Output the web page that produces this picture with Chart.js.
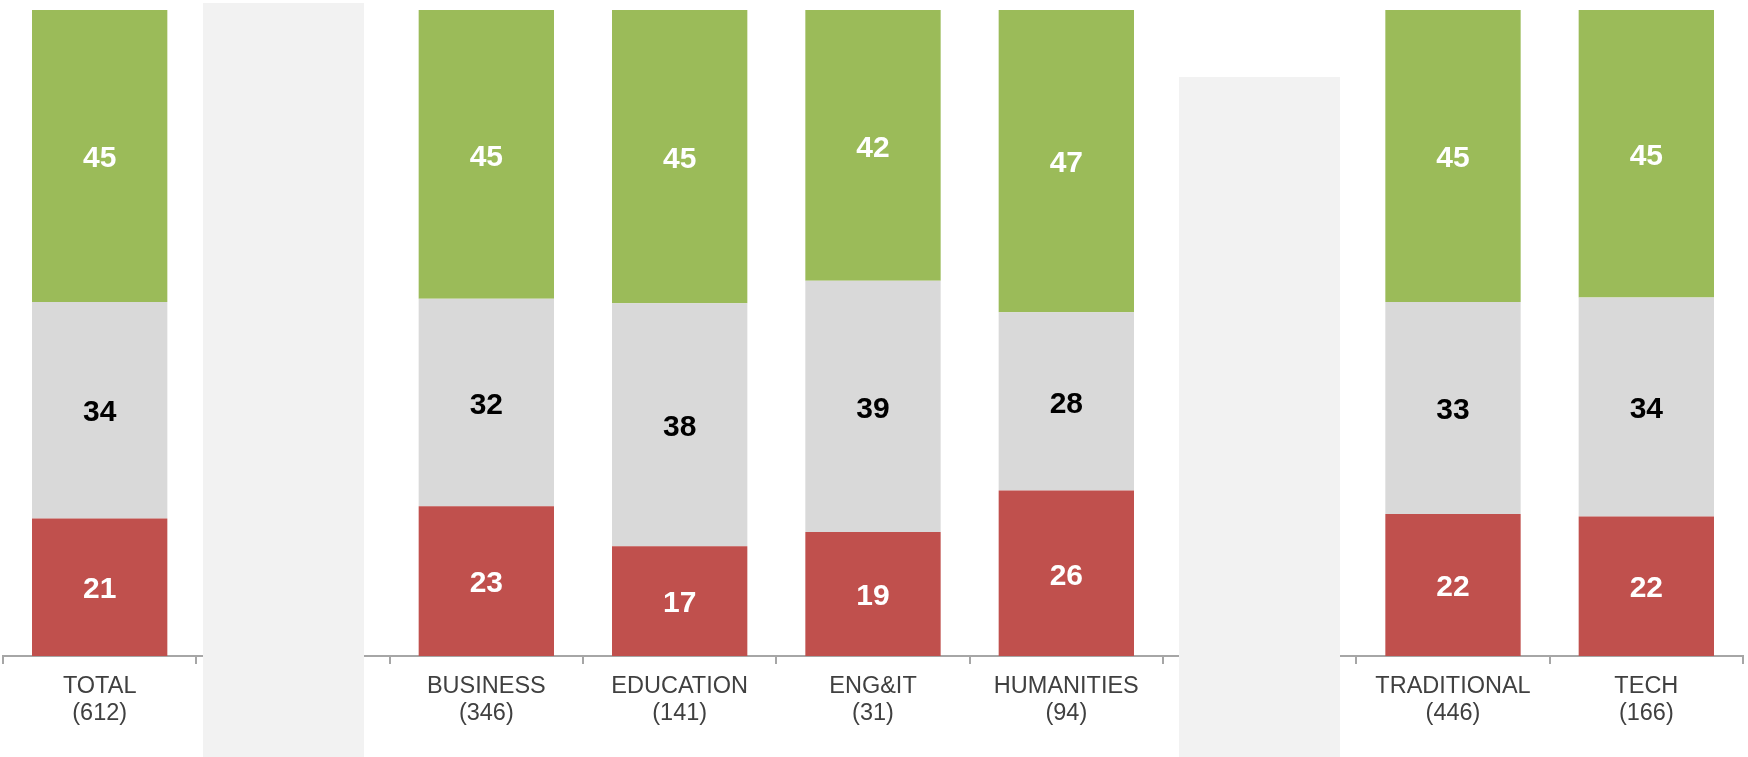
<!DOCTYPE html>
<html>
<head>
<meta charset="utf-8">
<script src="https://cdn.jsdelivr.net/npm/chart.js@4/dist/chart.umd.min.js"></script>
<style>
  html, body { margin: 0; padding: 0; background: #ffffff; }
  #wrap { width: 1748px; height: 757px; position: relative; }
</style>
</head>
<body>
<div id="wrap"><canvas id="c" width="1748" height="757"></canvas></div>
<script>
// Categories (empty strings are the shaded spacer columns)
const categories = ['TOTAL', '', 'BUSINESS', 'EDUCATION', 'ENG&IT', 'HUMANITIES', '', 'TRADITIONAL', 'TECH'];
const sampleSizes = ['(612)', '', '(346)', '(141)', '(31)', '(94)', '', '(446)', '(166)'];

// Series values (percent), bottom to top
const negativeValues = [21.3, null, 23.2, 17.0, 19.2, 25.6, null, 22.0, 21.6];
const neutralValues  = [33.5, null, 32.1, 37.6, 38.9, 27.6, null, 32.8, 33.9];
const positiveValues = [45.2, null, 44.7, 45.4, 41.9, 46.8, null, 45.2, 44.5];

// Spacer panels: category index and top (in y-axis units)
const spacerIndex = [1, 6];
const spacerTop = [101.1, 89.6];

const FONT = '"Liberation Sans", Arial, Helvetica, sans-serif';

const labels = categories.map((c, i) => c ? [c, sampleSizes[i]] : ['']);

const valueLabels = {
  id: 'valueLabels',
  afterDatasetsDraw(chart) {
    const ctx = chart.ctx;
    ctx.save();
    ctx.font = 'bold 30px ' + FONT;
    ctx.textAlign = 'center';
    ctx.textBaseline = 'middle';
    chart.data.datasets.forEach((ds, di) => {
      const meta = chart.getDatasetMeta(di);
      meta.data.forEach((el, i) => {
        const v = ds.data[i];
        if (v === null || v === undefined) return;
        const p = el.getProps(['x', 'y', 'base'], true);
        ctx.fillStyle = ds.labelColor;
        ctx.fillText(String(Math.round(v)), p.x, (p.y + p.base) / 2 + 3);
      });
    });
    ctx.restore();
  }
};

const spacers = {
  id: 'spacers',
  afterDatasetsDraw(chart, args, opts) {
    const ctx = chart.ctx;
    const xs = chart.scales.x, ys = chart.scales.y;
    const catW = xs.width / xs.ticks.length;
    ctx.save();
    ctx.fillStyle = opts.color;
    spacerIndex.forEach((idx, k) => {
      const cx = xs.getPixelForValue(idx) + (opts.shift[k] || 0);
      const w = catW * opts.widthRatio;
      const top = ys.getPixelForValue(spacerTop[k]);
      ctx.fillRect(Math.round(cx - w / 2), Math.round(top), Math.round(w), chart.height - Math.round(top));
    });
    ctx.restore();
  }
};

new Chart(document.getElementById('c'), {
  type: 'bar',
  data: {
    labels: labels,
    datasets: [
      { label: 'Negative', data: negativeValues, backgroundColor: '#C0504D', labelColor: '#ffffff' },
      { label: 'Neutral', data: neutralValues, backgroundColor: '#D9D9D9', labelColor: '#000000' },
      { label: 'Positive', data: positiveValues, backgroundColor: '#9BBB59', labelColor: '#ffffff' }
    ]
  },
  options: {
    responsive: false,
    animation: false,
    devicePixelRatio: 1,
    layout: { padding: { top: 10, left: 3, right: 5, bottom: 0 } },
    datasets: { bar: { categoryPercentage: 1.0, barPercentage: 0.7, borderWidth: 0 } },
    plugins: {
      legend: { display: false },
      tooltip: { enabled: false },
      spacers: { color: '#F2F2F2', widthRatio: 0.833, shift: [-9, 0] }
    },
    scales: {
      x: {
        stacked: true,
        grid: { display: true, drawOnChartArea: false, drawTicks: true, tickLength: 8, color: '#A6A6A6', lineWidth: 2, offset: true },
        border: { display: true, color: '#A6A6A6', width: 2 },
        ticks: {
          color: '#404040',
          font: { family: FONT, size: 23.5, lineHeight: 1.15 },
          padding: 9,
          maxRotation: 0,
          autoSkip: false
        },
        afterFit(scale) { scale.height = 101; }
      },
      y: {
        stacked: true,
        display: false,
        min: 0,
        max: 100
      }
    }
  },
  plugins: [valueLabels, spacers]
});
</script>
</body>
</html>
